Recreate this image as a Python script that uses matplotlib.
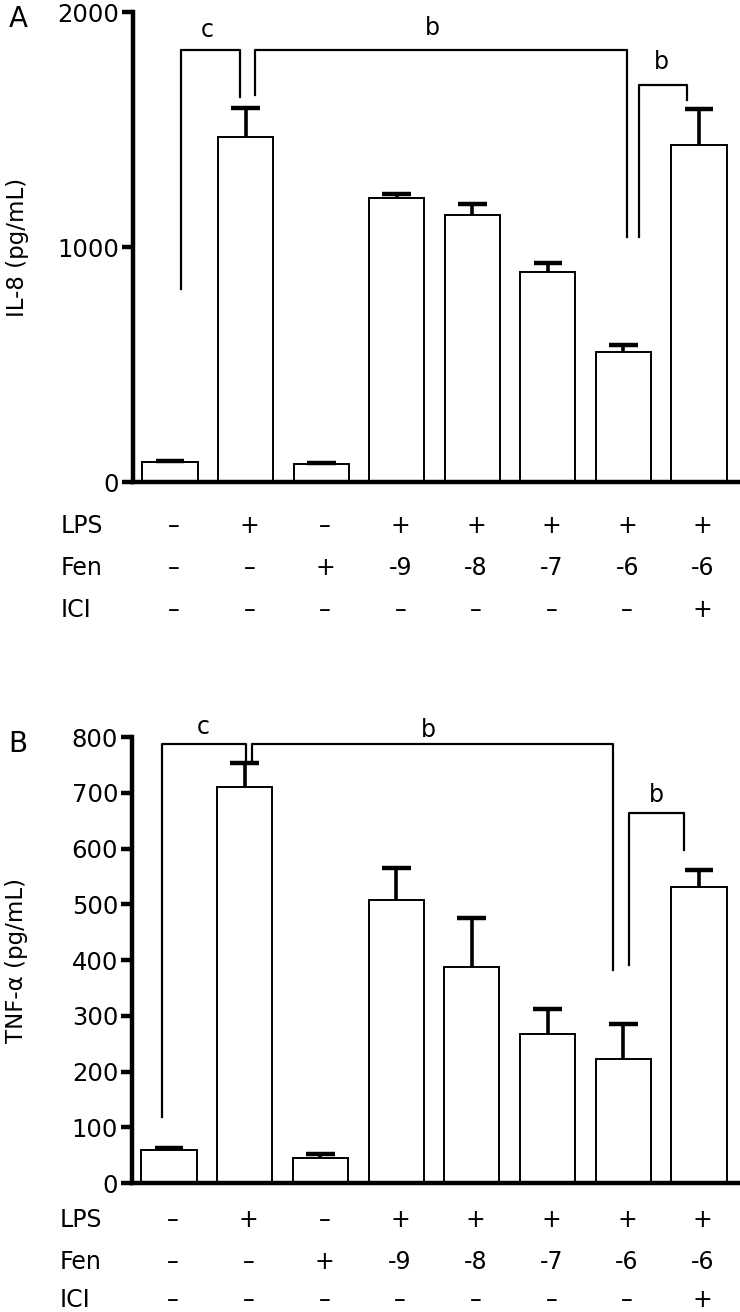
import numpy as np
import matplotlib
matplotlib.use('Agg')
from matplotlib import pyplot as plt

# group rows under the bars
lps = ['–', '+', '–', '+', '+', '+', '+', '+']
fen = ['–', '–', '+', '-9', '-8', '-7', '-6', '-6']
ici = ['–', '–', '–', '–', '–', '–', '–', '+']

# panel A: IL-8
il8 = [85, 1468, 77, 1208, 1136, 894, 553, 1434]
il8_err = [4, 125, 6, 17, 47, 38, 30, 153]

# panel B: TNF-alpha
tnf = [60, 710, 45, 507, 387, 267, 222, 531]
tnf_err = [3, 43, 7, 58, 88, 45, 63, 30]

# brackets: x_left, x_right, top, left leg bottom, right leg bottom, label, label x, label y
brackets_a = [(0.15, 0.93, 1838, 821, 1638, 'c', 0.49, 1923),
              (1.12, 6.05, 1838, 1647, 1043, 'b', 3.47, 1932),
              (6.2, 6.84, 1689, 1043, 1626, 'b', 6.5, 1787)]
brackets_b = [(-0.09, 1.02, 787, 118, 759, 'c', 0.45, 818),
              (1.1, 5.86, 787, 759, 382, 'b', 3.43, 812),
              (6.07, 6.8, 664, 391, 597, 'b', 6.44, 696)]

plt.rcParams['font.family'] = ['DejaVu Sans']

fig = plt.figure(figsize=(7.4, 13.12), dpi=100)
ax_a = fig.add_axes([0.1797, 0.6326, 0.8176, 0.3582])
ax_b = fig.add_axes([0.1784, 0.0983, 0.8189, 0.3399])

x = np.arange(len(il8))


def draw_panel(ax, vals, errs, brackets, ymax, yticks, ylabel, letter, rows_y):
    vals = np.array(vals)
    errs = np.array(errs)
    ax.bar(x, vals, width=0.73, color='white', edgecolor='black', linewidth=1.4, zorder=2)
    ax.vlines(x, vals, vals + errs, color='black', linewidth=2.6, zorder=3)
    ax.hlines(vals + errs, x - 0.19, x + 0.19, color='black', linewidth=3.2, zorder=3)
    for x1, x2, top, yl, yr, lab, lx, ly in brackets:
        ax.plot([x1, x1, x2, x2], [yl, top, top, yr], color='black', linewidth=1.6,
                clip_on=False, zorder=4)
        ax.text(lx, ly, lab, ha='center', va='center', fontsize=17, clip_on=False)
    ax.set_xlim(-0.49, 7.516)
    ax.set_ylim(0, ymax)
    ax.set_yticks(yticks)
    ax.set_xticks([])
    ax.spines['top'].set_visible(False)
    ax.spines['right'].set_visible(False)
    ax.spines['left'].set_linewidth(3.2)
    ax.spines['bottom'].set_linewidth(3.2)
    ax.tick_params(axis='y', length=8, width=3.2, labelsize=17.5, pad=2)
    ax.set_ylabel(ylabel, fontsize=16.5)
    ax.yaxis.set_label_coords(-0.172, 0.5)
    ax.text(-0.205, 0.985, letter, transform=ax.transAxes, fontsize=20, ha='left', va='center')
    trans = ax.get_xaxis_transform()
    for name, row, ry in zip(['LPS', 'Fen', 'ICI'], [lps, fen, ici], rows_y):
        ax.text(-1.45, ry, name, transform=trans, fontsize=17, ha='left', va='center',
                clip_on=False)
        for i, s in enumerate(row):
            ax.text(x[i] + 0.05, ry, s, transform=trans, fontsize=17, ha='center',
                    va='center', clip_on=False)


draw_panel(ax_a, il8, il8_err, brackets_a, 2000, [0, 1000, 2000], 'IL-8 (pg/mL)', 'A',
           [-0.094, -0.183, -0.272])
draw_panel(ax_b, tnf, tnf_err, brackets_b, 800, list(range(0, 801, 100)), 'TNF-α (pg/mL)', 'B',
           [-0.083, -0.177, -0.262])

fig.savefig('out.png', dpi=100)
